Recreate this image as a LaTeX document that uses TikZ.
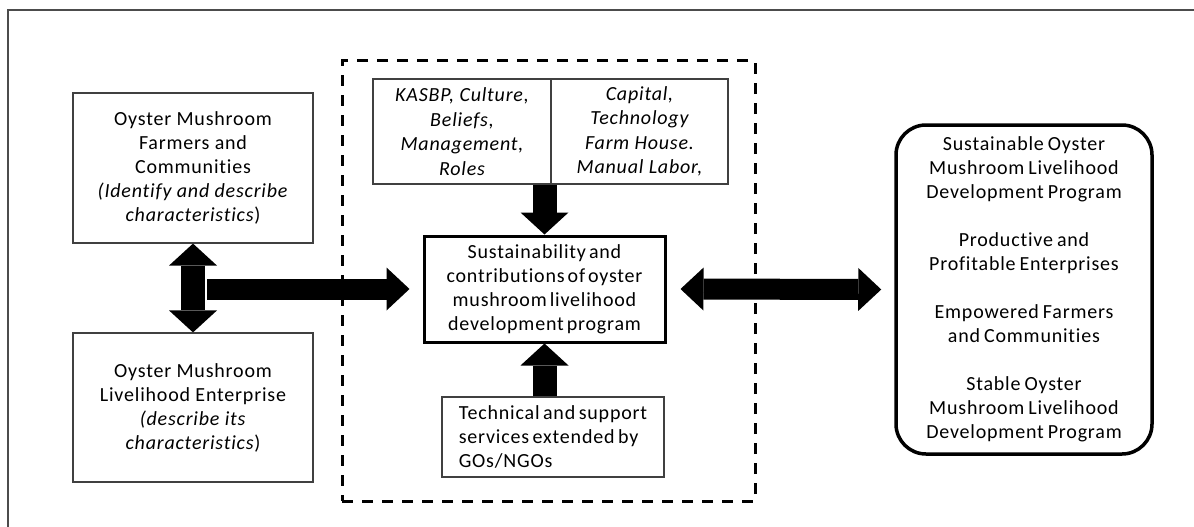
\documentclass[tikz,border=0pt]{standalone}
\usepackage{fontspec}
\setmainfont{Carlito}[LetterSpace=4,Ligatures=NoCommon]
\newcommand\wordgap[1]{\spaceskip=#1\relax}
\usetikzlibrary{arrows.meta,positioning}

\tikzset{
  thinbox/.style={draw=black!75, line width=1.2pt, align=center, inner sep=0pt},
  thickbox/.style={draw=black, line width=3pt, align=center, inner sep=0pt},
  groupbox/.style={draw=black, line width=3pt, dash pattern=on 11pt off 9pt, inner sep=0pt},
  htip/.tip={Triangle[width=43pt,length=23pt,line width=0pt]},
  vtip/.tip={Triangle[width=48pt,length=22pt,line width=0pt]},
  harrow/.style={line width=21pt},
  varrow/.style={line width=24pt}
}

\begin{document}
\begin{tikzpicture}[x=1pt,y=-1pt,font=\fontsize{20}{24}\selectfont]
  \useasboundingbox (0,0) rectangle (1194,527);
  \draw[black!70, line width=1.3pt] (1194,10) -- (8,10) -- (8,527);

  % left column
  \node[thinbox, minimum width=240pt, minimum height=150pt] (farmers) at (193,168)
    {Oyster Mushroom\\ Farmers and\\ Communities\\ \textit{(Identify and describe}\\ \textit{characteristics})};
  \node[thinbox, minimum width=240pt, minimum height=149pt] (enterprise) at (193,407.5)
    {Oyster Mushroom\\ Livelihood Enterprise\\ \textit{(describe its}\\ \textit{characteristics})};

  % middle group
  \node[groupbox, minimum width=413pt, minimum height=440pt] (group) at (548.5,281) {};
  \node[thinbox, minimum width=178pt, minimum height=105pt, font={\fontsize{20}{24.5}\selectfont\itshape}] (culture) at (462,131.5)
    {KASBP, Culture,\\ Beliefs,\\ Management,\\ Roles};
  \node[thinbox, minimum width=177pt, minimum height=105pt, font={\fontsize{20}{24.5}\selectfont\itshape}] (capital) at (639.5,131.5)
    {Capital,\\ Technology\\ Farm House.\\ Manual Labor,};
  \node[thickbox, minimum width=241pt, minimum height=106pt, font={\fontsize{20}{24}\selectfont\wordgap{3pt}}] (core) at (544.5,289)
    {Sustainability and\\ contributions of oyster\\ mushroom livelihood\\ development program};
  \node[thinbox, align=left, minimum width=222pt, minimum height=80pt, font={\fontsize{20}{24}\selectfont\wordgap{3.5pt}}] (support) at (553,437)
    {Technical and support\\ services extended by\\ GOs/NGOs};

  % outcomes
  \node[thickbox, line width=3.5pt, rounded corners=30pt, minimum width=256pt, minimum height=329pt, font={\fontsize{20}{24}\selectfont\wordgap{4pt}}] (outcome) at (1024,289.5)
    {Sustainable Oyster\\ Mushroom Livelihood\\ Development Program\\[24pt]
     Productive and\\ Profitable Enterprises\\[24pt]
     Empowered Farmers\\ and Communities\\[24pt]
     Stable Oyster\\ Mushroom Livelihood\\ Development Program};

  % arrows
  \coordinate (junction) at (207,289);
  \draw[varrow, vtip-vtip] (farmers.south) -- (enterprise.north);
  \draw[harrow, -htip] (junction) -- ([xshift=-13pt]core.west);
  \draw[varrow, -vtip] (core.north |- culture.south) -- (core.north);
  \draw[varrow, -vtip] (core.south |- support.north) -- (core.south);
  \draw[harrow, htip-htip] ([xshift=14pt]core.east) -- ([xshift=-13pt]outcome.west);
\end{tikzpicture}
\end{document}
